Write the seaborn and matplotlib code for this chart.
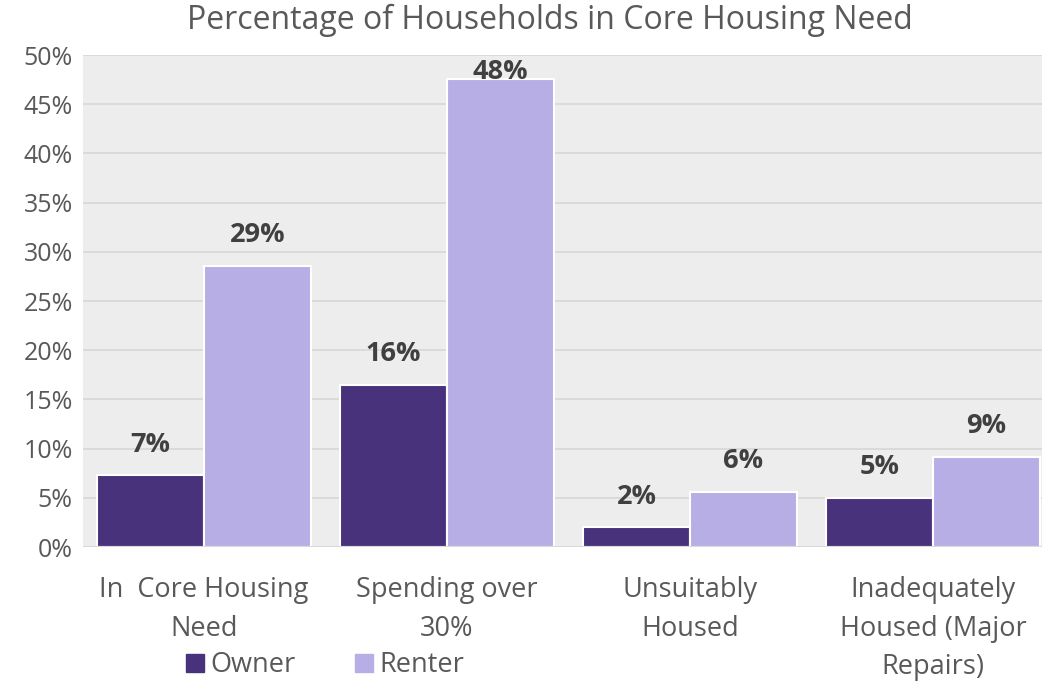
import pandas as pd
import matplotlib.pyplot as plt
import seaborn as sns
from matplotlib.lines import Line2D

# Data
categories = ["In  Core Housing\nNeed", "Spending over\n30%", "Unsuitably\nHoused",
              "Inadequately\nHoused (Major\nRepairs)"]
owner = [7.3, 16.5, 2.0, 5.0]
renter = [28.6, 47.6, 5.6, 9.2]
series = ["Owner", "Renter"]
colors = ["#48327B", "#B8AEE6"]

df = pd.DataFrame({
    "category": categories * 2,
    "tenure": ["Owner"] * 4 + ["Renter"] * 4,
    "pct": owner + renter,
})

sns.set_theme(style="white")
plt.rcParams["font.family"] = ["Open Sans", "DejaVu Sans"]

fig = plt.figure(figsize=(10.42, 6.83), dpi=100)
ax = fig.add_axes([0.0792, 0.199, 0.9328, 0.7204])
ax.set_facecolor("#EDEDED")

sns.barplot(data=df, x="category", y="pct", hue="tenure", order=categories,
            hue_order=series, palette=colors, saturation=1, width=0.88,
            edgecolor="white", linewidth=1.5, ax=ax, legend=False, zorder=3)

ax.set_ylim(0, 50)
ax.set_yticks(range(0, 51, 5))
ax.set_yticklabels([f"{v}%" for v in range(0, 51, 5)], fontsize=18, color="#595959")
ax.yaxis.grid(True, color="#D9D9D9", linewidth=1.3, zorder=0)
ax.set_axisbelow(True)
ax.tick_params(axis="y", length=0, pad=7)
ax.tick_params(axis="x", length=0, pad=21)
for lbl in ax.get_xticklabels():
    lbl.set_fontsize(19.5)
    lbl.set_color("#595959")
    lbl.set_linespacing(1.5)
    lbl.set_verticalalignment("top")
ax.set_xlabel("")
ax.set_ylabel("")
for s in ax.spines.values():
    s.set_visible(False)
ax.axhline(0, color="#D9D9D9", linewidth=1.5, zorder=4)

# value labels above bars
for cont in ax.containers:
    for bar in cont:
        h = bar.get_height()
        x = bar.get_x() + bar.get_width() / 2
        y = min(h + 3.1, 48.3)
        ax.text(x, y, f"{h:.0f}%", ha="center", va="center", fontsize=19.5,
                fontweight="bold", color="#404040", zorder=5)

fig.text(550 / 1042, 1 - 20 / 683, "Percentage of Households in Core Housing Need",
         ha="center", va="center", fontsize=23, color="#595959")

handles = [Line2D([0], [0], marker="s", linestyle="", markersize=13,
                  markerfacecolor=c, markeredgecolor=c) for c in colors]
fig.legend(handles, series, loc="center", bbox_to_anchor=(325 / 1042, 1 - 665 / 683),
           ncol=2, frameon=False, fontsize=19.5, handlelength=0.7, handletextpad=0.2,
           columnspacing=2.2, labelcolor="#595959")

fig.savefig("out.png", dpi=100)
